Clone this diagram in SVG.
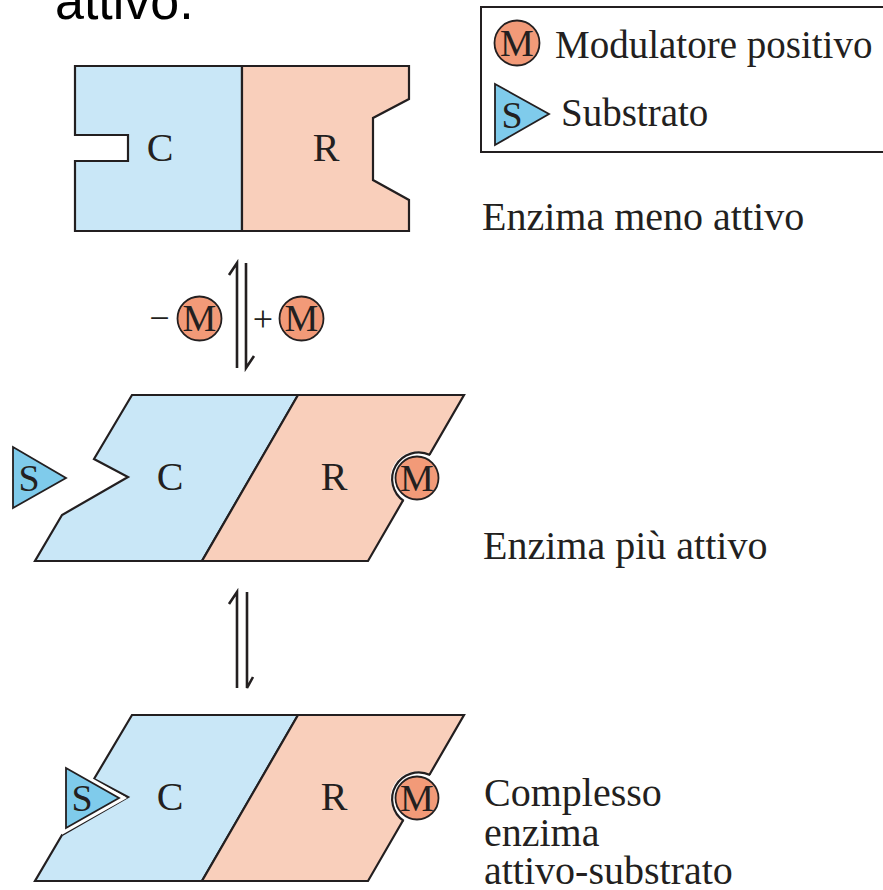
<svg xmlns="http://www.w3.org/2000/svg" width="883" height="890" viewBox="0 0 883 890">
<style>
.ln{stroke:#231f20;stroke-width:2.2;stroke-linejoin:miter;fill:none}
.c{fill:#c9e7f7;stroke:#231f20;stroke-width:2.2}
.r{fill:#f9cfbb;stroke:#231f20;stroke-width:2.2}
.m{fill:#f29a78;stroke:#231f20;stroke-width:1.8}
.s{fill:#7fcbeb;stroke:#231f20;stroke-width:1.8}
.t{font-family:"Liberation Serif","Times New Roman",serif;fill:#231f20}
.lab{font-size:40px;text-anchor:middle}
.mt{font-size:38px;text-anchor:middle}
.cap{font-size:40px}
.leg{font-size:39px}
.arr{stroke:#231f20;stroke-width:2.6;fill:none;stroke-linecap:butt}
</style>
<text x="55" y="19" font-family="Liberation Sans, Arial, sans-serif" font-size="52" fill="#000">attivo.</text>

<g id="legend">
<rect x="481" y="7" width="420" height="145" fill="#fff" stroke="#231f20" stroke-width="2"/>
<circle class="m" cx="517" cy="43" r="22.5"/>
<text class="t mt" x="517" y="56">M</text>
<text class="t leg" x="555" y="58">Modulatore positivo</text>
<polygon class="s" points="495,84 495,145 549,114"/>
<text class="t mt" x="512" y="128">S</text>
<text class="t leg" x="561" y="126">Substrato</text>
</g>

<g id="enzyme1">
<path class="c" d="M75,66 H242 V231 H75 V161 H128 V135 H75 Z"/>
<path class="r" d="M242,66 H409 V99 L373,118 V180 L409,200 V231 H242 Z"/>
<text class="t lab" x="160" y="161">C</text>
<text class="t lab" x="326" y="161">R</text>
<text class="t cap" x="482" y="230">Enzima meno attivo</text>
</g>

<g id="enzyme2">
<path class="c" d="M132,395 H298 L202,561 H35 L62,515 L128,477 L94,459 Z"/>
<path class="r" d="M298,395 H464 L368,561 H202 Z"/>
<circle cx="417" cy="478" r="26.5" fill="#fff"/>
<path class="ln" d="M430.2,455.1 A26.5,26.5 0 0 0 403.8,500.9"/>
<circle class="m" cx="417" cy="478" r="21.5"/>
<text class="t mt" x="417" y="491">M</text>
<polygon class="s" points="13,447 13,508 66,478"/>
<text class="t mt" x="29" y="491">S</text>
<text class="t lab" x="170" y="490">C</text>
<text class="t lab" x="334" y="490">R</text>
<text class="t cap" x="483" y="559">Enzima più attivo</text>
</g>

<g id="enzyme3">
<path class="c" d="M132,715 H298 L202,881 H35 L62,835 L128,797 L94,779 Z"/>
<path class="r" d="M298,715 H464 L368,881 H202 Z"/>
<circle cx="417" cy="798" r="26.5" fill="#fff"/>
<path class="ln" d="M430.2,775.1 A26.5,26.5 0 0 0 403.8,820.9"/>
<circle class="m" cx="417" cy="798" r="21.5"/>
<text class="t mt" x="417" y="811">M</text>
<polygon points="66,768 66,828 119,798" fill="none" stroke="#fff" stroke-width="8" stroke-linejoin="miter"/>
<polygon class="s" points="66,768 66,828 119,798"/>
<text class="t mt" x="82" y="811">S</text>
<text class="t lab" x="170" y="810">C</text>
<text class="t lab" x="334" y="810">R</text>
<text class="t cap" x="484" y="806">Complesso</text>
<text class="t cap" x="484" y="846">enzima</text>
<text class="t cap" x="484" y="884">attivo-substrato</text>
</g>

<g id="connectors">
<path class="arr" d="M237,368 V263 L229,275"/>
<path class="arr" d="M246,263 V368 L254,356"/>
<path class="arr" d="M237,688 V592 L229,604"/>
<path class="arr" d="M247,592 V688 L253,677"/>
<text class="t" x="159.5" y="330" font-size="36" text-anchor="middle">−</text>
<circle class="m" cx="199.5" cy="318.5" r="22"/>
<text class="t mt" x="199.5" y="331">M</text>
<text class="t" x="263" y="331" font-size="36" text-anchor="middle">+</text>
<circle class="m" cx="301.5" cy="318.5" r="22"/>
<text class="t mt" x="301.5" y="331">M</text>
</g>
</svg>
